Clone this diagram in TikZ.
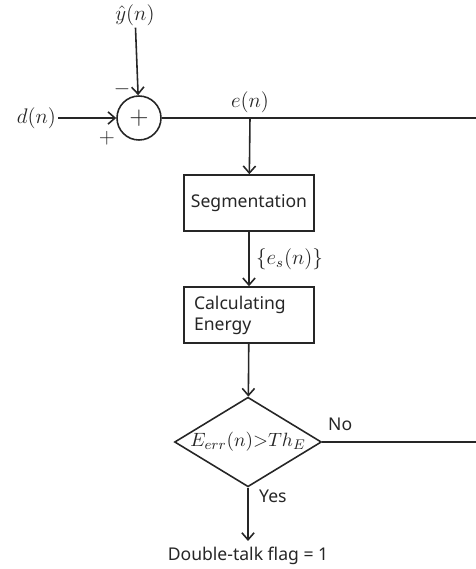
\documentclass[tikz,border=0pt]{standalone}
\usepackage{fontspec}
\setmainfont{Noto Sans}
\usetikzlibrary{shapes.geometric,arrows.meta}
\begin{document}
\begin{tikzpicture}[x=0.02cm,y=-0.02cm,
  >={Straight Barb[length=4pt,width=7pt]},
  every node/.style={font=\fontsize{10}{12}\selectfont,text=black!85},
  wire/.style={draw=black!85,line width=0.9pt},
  sig/.style={font=\fontsize{11.5}{13}\selectfont,inner sep=1pt},
  procbox/.style={draw=black!85,line width=0.9pt,minimum width=2.6cm,minimum height=1.12cm,inner sep=0pt},
  sumnode/.style={circle,draw=black!85,line width=0.9pt,minimum size=0.88cm,inner sep=0pt,font=\Large},
  decision/.style={diamond,draw=black!85,line width=0.9pt,aspect=1.64,minimum width=2.76cm,minimum height=1.68cm,inner sep=0pt,font=\fontsize{11}{13}\selectfont}]
\useasboundingbox (0,0) rectangle (476,569);
% summing junction
\node[sumnode] (sum) at (139,118) {$+$};
\node[sig] (yhat) at (135,15) {$\hat{y}(n)$};
\node[sig,anchor=east] (din) at (58,118) {$d(n)$};
\node[sig] (minus) at (122,89) {$-$};
\node[sig] (plus) at (107,138) {$+$};
\coordinate (eout) at (476,118);
\coordinate (split) at (250,118);
\node[sig,anchor=south] (elabel) at (250,115) {$e(n)$};
% blocks
\node[procbox] (seg) at (249,203) {Segmentation};
\node[procbox,align=left,text width=2.2cm,inner xsep=0.2cm] (energy) at (249,315) {Calculating\\Energy};
\node[sig,anchor=west] (eslabel) at (254,259) {$\{e_s(n)\}$};
\node[decision] (check) at (248,442) {$E_{err}(n){>}Th_E$};
\coordinate (noout) at (476,442);
\node[anchor=south west] (no) at (322,437) {No};
\node[anchor=west] (yes) at (253,496) {Yes};
\node (flag) at (248,556) {Double-talk flag = 1};
% connectors
\draw[wire,->] (yhat) -- (sum);
\draw[wire,->] (din) -- (sum);
\draw[wire] (sum) -- (eout);
\draw[wire,->] (split) -- (seg);
\draw[wire,->] (seg) -- (energy);
\draw[wire,->] (energy) -- (check);
\draw[wire] (check.east) -- (noout);
\draw[wire,->] (check.south) -- (flag);
\end{tikzpicture}
\end{document}
